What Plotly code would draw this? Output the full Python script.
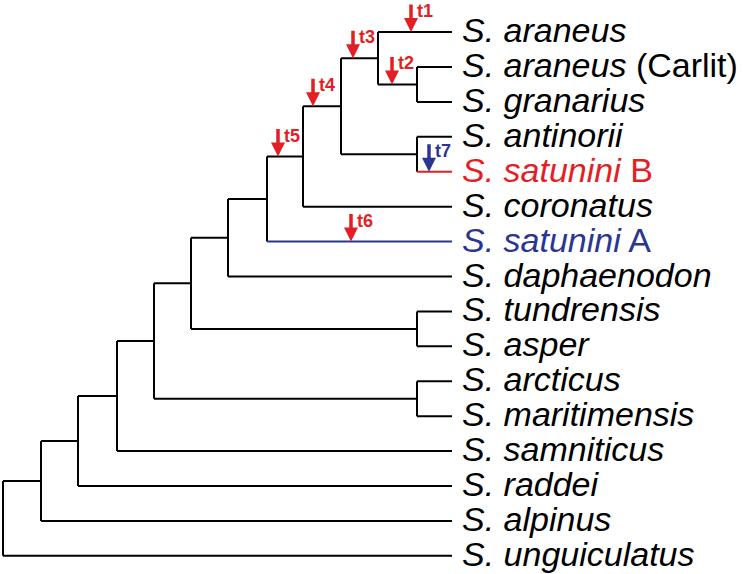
import plotly.graph_objects as go

# tips, top to bottom
tip_species = ["S. araneus", "S. araneus", "S. granarius", "S. antinorii", "S. satunini",
               "S. coronatus", "S. satunini", "S. daphaenodon", "S. tundrensis", "S. asper",
               "S. arcticus", "S. maritimensis", "S. samniticus", "S. raddei", "S. alpinus",
               "S. unguiculatus"]
tip_suffix = ["", "(Carlit)", "", "", "B", "", "A", "", "", "", "", "", "", "", "", ""]
tip_keys = ["araneus", "carlit", "granarius", "antinorii", "satuniniB", "coronatus", "satuniniA",
            "daphaenodon", "tundrensis", "asper", "arcticus", "maritimensis", "samniticus",
            "raddei", "alpinus", "unguiculatus"]
tip_color = ["black", "black", "black", "black", "red", "black", "blue", "black",
             "black", "black", "black", "black", "black", "black", "black", "black"]
tip_depth = 452

# internal nodes (child a, child b, depth)
node_names = ["n_gr", "n_ara", "n_ant", "n3", "n4", "n5", "n6", "n_tun", "n7", "n_arc",
              "n8", "n9", "n10", "n11", "root"]
node_a = ["carlit", "araneus", "antinorii", "n_ara", "n3", "n4", "n5", "tundrensis", "n6",
          "arcticus", "n7", "n8", "n9", "n10", "n11"]
node_b = ["granarius", "n_gr", "satuniniB", "n_ant", "coronatus", "satuniniA", "daphaenodon",
          "asper", "n_tun", "maritimensis", "n_arc", "samniticus", "raddei", "alpinus",
          "unguiculatus"]
node_depth = [417, 378, 417, 341, 303, 267, 228, 417, 191, 417, 154, 117, 78, 41, 3]

# events marked with arrows: label, branch (child), position along branch
event_label = ["t1", "t2", "t3", "t4", "t5", "t6", "t7"]
event_branch = ["araneus", "n_gr", "n_ara", "n3", "n4", "satuniniA", "satuniniB"]
event_x = [411, 392, 353, 313, 278, 351, 429]
event_color = ["red", "red", "red", "red", "red", "red", "blue"]

RED = "#E31E24"
BLUE = "#2B3592"
COLS = {"black": "black", "red": RED, "blue": BLUE}

ypos = {k: i for i, k in enumerate(tip_keys)}
xpos = {k: tip_depth for k in tip_keys}
for n, a, b, d in zip(node_names, node_a, node_b, node_depth):
    ypos[n] = (ypos[a] + ypos[b]) / 2
    xpos[n] = d

seg = {"black": ([], []), "red": ([], []), "blue": ([], [])}
branch_col = dict(zip(tip_keys, tip_color))
for n, a, b, d in zip(node_names, node_a, node_b, node_depth):
    xs, ys = seg["black"]
    xs += [d, d, None]
    ys += [ypos[a], ypos[b], None]
    for c in (a, b):
        xs, ys = seg[branch_col.get(c, "black")]
        xs += [d, xpos[c], None]
        ys += [ypos[c], ypos[c], None]

fig = go.Figure()
for col, (xs, ys) in seg.items():
    fig.add_trace(go.Scatter(x=xs, y=ys, mode="lines", hoverinfo="skip",
                             line=dict(color=COLS[col], width=2)))

for sp, suf, k, c in zip(tip_species, tip_suffix, tip_keys, tip_color):
    txt = f"<i>{sp}</i>" + (f" {suf}" if suf else "")
    fig.add_annotation(x=tip_depth + 8, y=ypos[k], yshift=2, text=txt, showarrow=False,
                       xanchor="left", yanchor="middle",
                       font=dict(size=34, color=COLS[c], family="Liberation Sans, Arial"))

for lab, br, ex, c in zip(event_label, event_branch, event_x, event_color):
    fig.add_annotation(x=ex, y=ypos[br], ax=0, ay=-29, text="", showarrow=True,
                       arrowhead=2, arrowwidth=3.5, arrowsize=0.8, arrowcolor=COLS[c],
                       standoff=0)
    fig.add_annotation(x=ex + 4, y=ypos[br], yshift=21, text=f"<b>{lab}</b>", showarrow=False,
                       xanchor="left", yanchor="middle",
                       font=dict(size=18, color=COLS[c], family="Liberation Sans, Arial"))

fig.update_layout(
    width=743, height=574,
    margin=dict(l=0, r=0, t=0, b=0),
    plot_bgcolor="white", paper_bgcolor="white",
    showlegend=False,
    xaxis=dict(range=[0, 743], visible=False, fixedrange=True),
    yaxis=dict(range=[15.52, -0.92], visible=False, fixedrange=True),
)

# page body has a default 8px margin; drop it so the plot fills the window
fig.write_html("out.html", config={"displayModeBar": False},
               post_script="document.body.style.margin='0';")
